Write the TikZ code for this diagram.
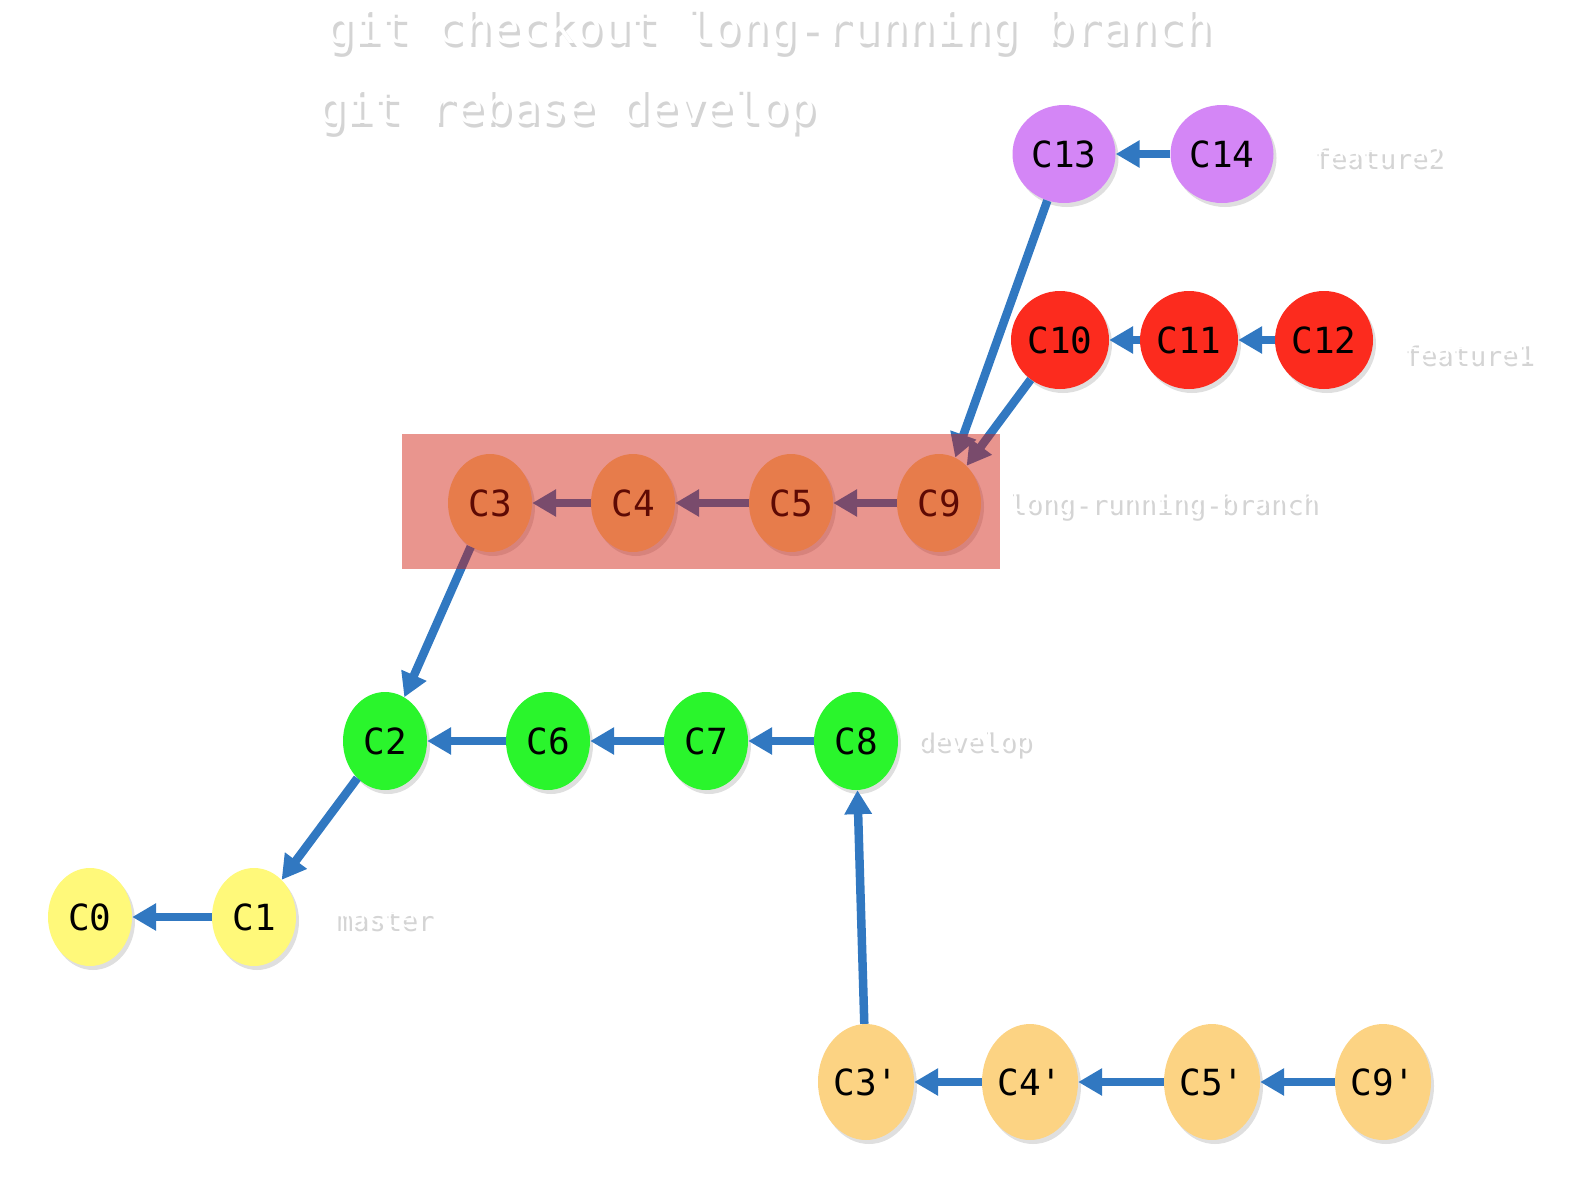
\documentclass[tikz,border=0pt]{standalone}
\usepackage{fontspec}
\setmonofont{DejaVu Sans Mono}
\usetikzlibrary{shapes.geometric,arrows.meta,shadows}
\definecolor{commitblue}{RGB}{49,120,193}
\definecolor{mastercol}{RGB}{255,249,122}
\definecolor{developcol}{RGB}{42,245,44}
\definecolor{rebasecol}{RGB}{252,211,131}
\definecolor{featureonecol}{RGB}{252,43,30}
\definecolor{featuretwocol}{RGB}{212,134,246}
\definecolor{overlaycol}{RGB}{207,23,9}
\newcommand\ghosttext[1]{\rlap{\kern3pt\raisebox{-4pt}{\color{black!17}#1}}{\color{white}#1}}
\tikzset{
  commit/.style={ellipse, inner sep=0pt, minimum width=84pt, minimum height=98pt,
    font=\ttfamily\fontsize{36}{36}\selectfont,
    drop shadow={shadow xshift=3pt, shadow yshift=-4pt, opacity=0.25}},
  bigcommit/.style={commit, minimum width=96pt, minimum height=116pt},
  parent/.style={draw=commitblue, line width=8.5pt, -{Triangle[length=24pt,width=26pt]}},
  reflabel/.style={anchor=west, inner sep=0pt, font=\ttfamily\fontsize{27}{27}\selectfont},
  cmdline/.style={anchor=west, inner sep=0pt, font=\ttfamily\fontsize{46}{46}\selectfont},
}
\begin{document}
\begin{tikzpicture}[x=1pt, y=-1pt]
  \useasboundingbox (0,0) rectangle (1588,1178);
  % commands
  \node[cmdline] (cmd1) at (326,33) {\ghosttext{git checkout long-running branch}};
  \node[cmdline] (cmd2) at (318,113) {\ghosttext{git rebase develop}};
  % commits
  \node[commit, fill=mastercol] (c0) at (90,917) {C0};
  \node[commit, fill=mastercol] (c1) at (254,917) {C1};
  \node[commit, fill=developcol] (c2) at (385,741) {C2};
  \node[commit, fill=developcol] (c6) at (548,741) {C6};
  \node[commit, fill=developcol] (c7) at (706,741) {C7};
  \node[commit, fill=developcol] (c8) at (856,741) {C8};
  \node[commit, fill=rebasecol] (c3) at (490,503) {C3};
  \node[commit, fill=rebasecol] (c4) at (633,503) {C4};
  \node[commit, fill=rebasecol] (c5) at (791,503) {C5};
  \node[commit, fill=rebasecol] (c9) at (939,503) {C9};
  \node[commit, fill=featureonecol, minimum width=98pt] (c10) at (1060,340) {C10};
  \node[commit, fill=featureonecol, minimum width=98pt] (c11) at (1189,340) {C11};
  \node[commit, fill=featureonecol, minimum width=98pt] (c12) at (1324,340) {C12};
  \node[commit, fill=featuretwocol, minimum width=103pt] (c13) at (1064,154) {C13};
  \node[commit, fill=featuretwocol, minimum width=103pt] (c14) at (1222,154) {C14};
  \node[bigcommit, fill=rebasecol] (c3p) at (866,1082) {C3'};
  \node[bigcommit, fill=rebasecol] (c4p) at (1030,1082) {C4'};
  \node[bigcommit, fill=rebasecol] (c5p) at (1212,1082) {C5'};
  \node[bigcommit, fill=rebasecol] (c9p) at (1383,1082) {C9'};
  % branch names
  \node[reflabel] (master) at (334,920) {\ghosttext{master}};
  \node[reflabel] (develop) at (917,744) {\ghosttext{develop}};
  \node[reflabel] (longrun) at (1008,506) {\ghosttext{long-running-branch}};
  \node[reflabel] (feature1) at (1402,354) {\ghosttext{feature1}};
  \node[reflabel] (feature2) at (1312,157) {\ghosttext{feature2}};
  \begin{scope}[parent]
    \draw (c1) to (c0);
    \draw (c2) to (c1);
    \draw (c6) to (c2);
    \draw (c7) to (c6);
    \draw (c8) to (c7);
    \draw (c3) to (c2);
    \draw (c4) to (c3);
    \draw (c5) to (c4);
    \draw (c9) to (c5);
    \draw (c10) to (c9);
    \draw (c11) to (c10);
    \draw (c12) to (c11);
    \draw (c13) to (c9);
    \draw (c14) to (c13);
    \draw (c3p) to (c8);
    \draw (c4p) to (c3p);
    \draw (c5p) to (c4p);
    \draw (c9p) to (c5p);
  \end{scope}
  % highlighted branch
  \fill[overlaycol, fill opacity=0.46] (402,434) rectangle (1000,569);
\end{tikzpicture}
\end{document}
